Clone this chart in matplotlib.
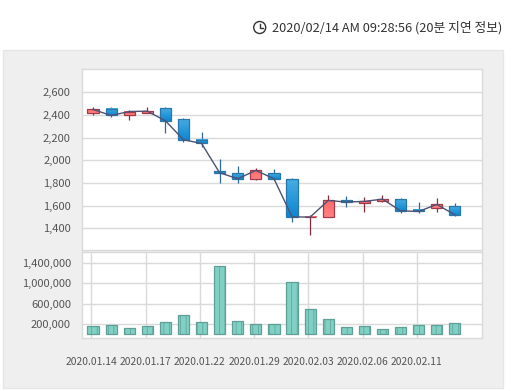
import matplotlib
matplotlib.use('Agg')
import matplotlib.pyplot as plt
from matplotlib.colors import LinearSegmentedColormap
from matplotlib.patches import Rectangle, Circle
import numpy as np

plt.rcParams['font.family'] = ['Noto Sans CJK KR', 'DejaVu Sans']

W, H = 512, 391

dates = ['2020.01.14', '01.15', '01.16', '2020.01.17', '01.20', '01.21', '2020.01.22',
         '01.23', '01.28', '2020.01.29', '01.30', '01.31', '2020.02.03', '02.04', '02.05',
         '2020.02.06', '02.07', '02.10', '2020.02.11', '02.12', '02.13']
opens = [2421, 2450, 2397, 2420, 2459, 2362, 2177, 1903, 1886, 1839, 1886,
         1833, 1497, 1503, 1647, 1627, 1645, 1656, 1562, 1577, 1594]
closes = [2450, 2397, 2432, 2435, 2350, 2183, 2150, 1891, 1839, 1912, 1839,
          1503, 1500, 1647, 1633, 1639, 1659, 1556, 1550, 1612, 1521]
highs = [2468, 2476, 2441, 2476, 2468, 2371, 2253, 2009, 1947, 1936, 1921,
         1841, 1518, 1692, 1683, 1674, 1692, 1665, 1630, 1665, 1621]
lows = [2403, 2385, 2359, 2415, 2244, 2165, 2118, 1803, 1800, 1830, 1830,
        1459, 1345, 1503, 1591, 1547, 1630, 1539, 1539, 1547, 1512]
volumes = [160000, 180000, 121000, 160000, 239000, 377000, 239000, 1340000, 259000, 200000, 200000,
           1026000, 495000, 298000, 141000, 160000, 102000, 141000, 180000, 180000, 220000]
price_ticks = [1400, 1600, 1800, 2000, 2200, 2400, 2600]
volume_ticks = [200000, 600000, 1000000, 1400000]
tick_every = 3


def box(left, top, right, bottom):
    return [left / W, 1 - bottom / H, (right - left) / W, (bottom - top) / H]


fig = plt.figure(figsize=(W / 100, H / 100), dpi=100, facecolor='white')

# grey panel and clock, in pixel coordinates
bg = fig.add_axes([0, 0, 1, 1])
bg.set_xlim(0, W)
bg.set_ylim(H, 0)
bg.axis('off')
bg.add_patch(Rectangle((3, 50), 499.5, 338, fc='#efefef', ec='#e6e6e6', lw=1))
bg.add_patch(Circle((259.7, 27.5), 6, fc='white', ec='#333333', lw=1))
bg.plot([259.7, 259.7, 263], [23.5, 28, 28], color='#333333', lw=1)
bg.text(272, 28, '2020/02/14 AM 09:28:56 (20분 지연 정보)', fontsize=9.2, color='#333333',
        va='center', ha='left')

border = '#dadada'
x = np.arange(len(dates))

# candles
ax = fig.add_axes(box(82, 69, 482, 250))
blue = LinearSegmentedColormap.from_list('b', ['#45ace2', '#0e86d2'])
red = LinearSegmentedColormap.from_list('r', ['#ff6a6a', '#ff8080'])
grad = np.linspace(0, 1, 32).reshape(-1, 1)
ax.yaxis.grid(True, color=border, lw=1)
ax.set_axisbelow(True)
for i in x:
    up = closes[i] >= opens[i]
    edge = '#a33a48' if up else '#2a76a8'
    wick = '#8a2c3c' if up else '#2d6a96'
    lo, hi = sorted([opens[i], closes[i]])
    ax.vlines(i, lows[i], highs[i], color=wick, lw=0.9, zorder=2)
    ax.imshow(grad, cmap=red if up else blue, extent=[i - 0.31, i + 0.31, lo, hi],
              origin='upper', aspect='auto', zorder=3)
    ax.add_patch(Rectangle((i - 0.31, lo), 0.62, hi - lo, fc='none', ec=edge, lw=0.9, zorder=4))
ax.plot(x, closes, color='#4d5374', lw=1, zorder=5)
ax.set_xlim(-0.61, 21.5)
ax.set_ylim(1210, 2807)
ax.set_xticks([])
ax.set_yticks(price_ticks)
ax.set_yticklabels([f'{v:,}' for v in price_ticks])

# volume
ax2 = fig.add_axes(box(82, 252, 482, 338))
plt.rcParams['hatch.linewidth'] = 0.5
ax2.bar(x, volumes, width=0.62, color='#80d0c4', edgecolor='#5f9f98', lw=0.9, hatch='|||', zorder=3)
ax2.yaxis.grid(True, color=border, lw=1)
ax2.set_axisbelow(True)
for i in x[::tick_every]:
    ax2.axvline(i - 0.1, color=border, lw=1, zorder=1)
ax2.set_xlim(-0.61, 21.5)
ax2.set_ylim(-70000, 1617000)
ax2.set_yticks(volume_ticks)
ax2.set_yticklabels([f'{v:,}' for v in volume_ticks])
ax2.set_xticks(x[::tick_every] - 0.1)
ax2.set_xticklabels(dates[::tick_every])

for a in (ax, ax2):
    a.set_facecolor('white')
    for s in a.spines.values():
        s.set_color(border)
        s.set_linewidth(1)
    a.tick_params(length=0, labelsize=8, labelcolor='#555555', pad=8)
ax2.tick_params(axis='x', pad=13.5, labelsize=7.4)

fig.savefig('out.png', dpi=100)
